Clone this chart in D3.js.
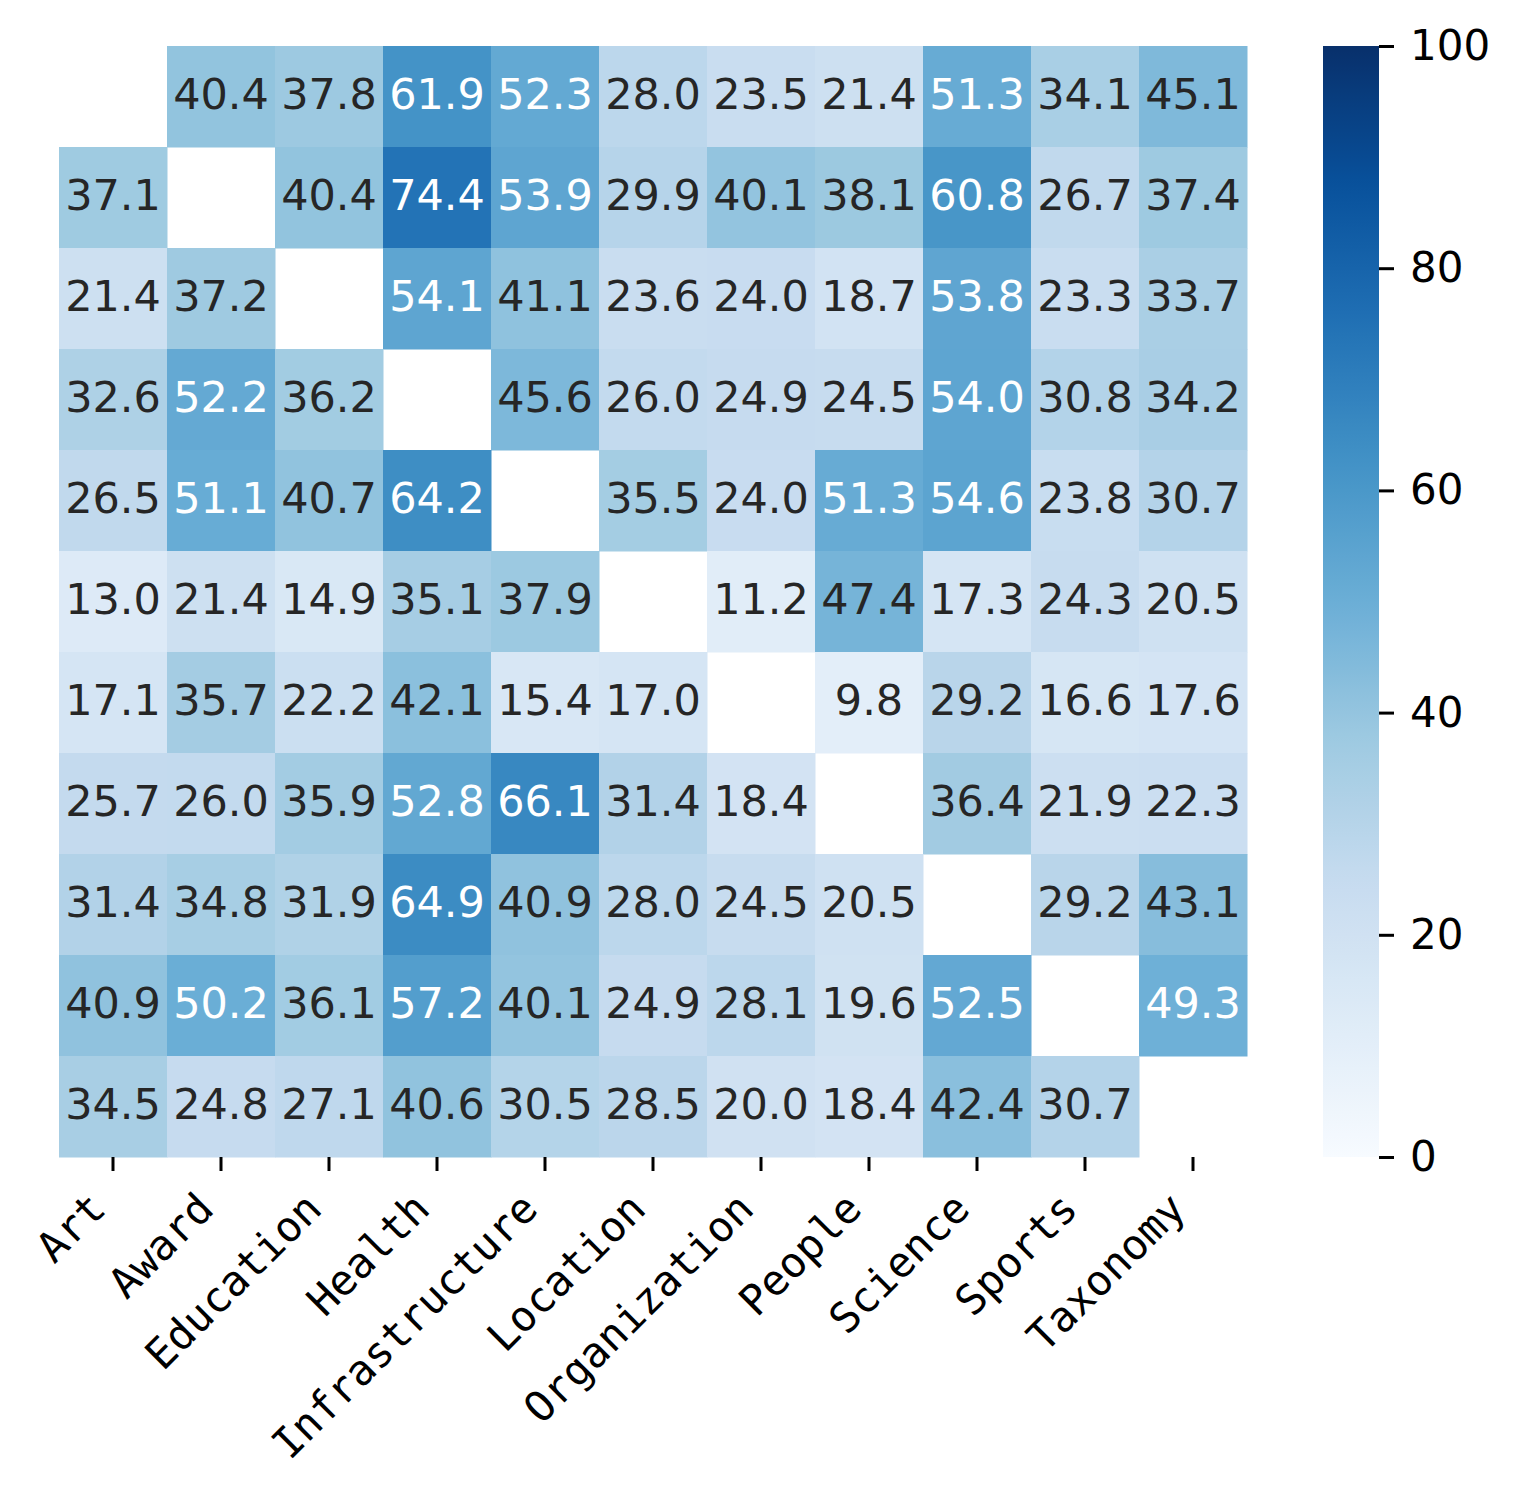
<!DOCTYPE html>
<html>
<head>
<meta charset="utf-8">
<script src="https://cdn.jsdelivr.net/npm/d3@7"></script>
<style>
  body { margin: 0; background: white; }
</style>
</head>
<body>
<div class="plot"></div>
<script>
// Categories (same for rows and columns)
var categories = ["Art", "Award", "Education", "Health", "Infrastructure", "Location",
                  "Organization", "People", "Science", "Sports", "Taxonomy"];

// One array per row, diagonal left empty
var rowArt            = [null, 40.4, 37.8, 61.9, 52.3, 28.0, 23.5, 21.4, 51.3, 34.1, 45.1];
var rowAward          = [37.1, null, 40.4, 74.4, 53.9, 29.9, 40.1, 38.1, 60.8, 26.7, 37.4];
var rowEducation      = [21.4, 37.2, null, 54.1, 41.1, 23.6, 24.0, 18.7, 53.8, 23.3, 33.7];
var rowHealth         = [32.6, 52.2, 36.2, null, 45.6, 26.0, 24.9, 24.5, 54.0, 30.8, 34.2];
var rowInfrastructure = [26.5, 51.1, 40.7, 64.2, null, 35.5, 24.0, 51.3, 54.6, 23.8, 30.7];
var rowLocation       = [13.0, 21.4, 14.9, 35.1, 37.9, null, 11.2, 47.4, 17.3, 24.3, 20.5];
var rowOrganization   = [17.1, 35.7, 22.2, 42.1, 15.4, 17.0, null,  9.8, 29.2, 16.6, 17.6];
var rowPeople         = [25.7, 26.0, 35.9, 52.8, 66.1, 31.4, 18.4, null, 36.4, 21.9, 22.3];
var rowScience        = [31.4, 34.8, 31.9, 64.9, 40.9, 28.0, 24.5, 20.5, null, 29.2, 43.1];
var rowSports         = [40.9, 50.2, 36.1, 57.2, 40.1, 24.9, 28.1, 19.6, 52.5, null, 49.3];
var rowTaxonomy       = [34.5, 24.8, 27.1, 40.6, 30.5, 28.5, 20.0, 18.4, 42.4, 30.7, null];

var rows = [rowArt, rowAward, rowEducation, rowHealth, rowInfrastructure, rowLocation,
            rowOrganization, rowPeople, rowScience, rowSports, rowTaxonomy];

// Colorbar ticks
var colorTicks = [0, 20, 40, 60, 80, 100];

// Layout
var outerWidth = 1517,
    outerHeight = 1491,
    margin = {left: 59, top: 46},
    width = 1188, height = 1111,
    cbar = {x: 1323, width: 56};

var canvas = d3.select(".plot")
    .append("svg")
    .attr("width", outerWidth)
    .attr("height", outerHeight);

canvas.append("rect")
    .attr("width", "100%")
    .attr("height", "100%")
    .attr("fill", "white");

// matplotlib "Blues" (linear between the 9 ColorBrewer anchors)
var bluesAnchors = ["#f7fbff", "#deebf7", "#c6dbef", "#9ecae1", "#6baed6",
                    "#4292c6", "#2171b5", "#08519c", "#08306b"];
var color = d3.scaleLinear()
    .domain(d3.range(9).map(i => i * 100 / 8))
    .range(bluesAnchors)
    .interpolate(d3.interpolateRgb)
    .clamp(true);

// seaborn-style text colour pick
function luminance(c) {
    var rgb = d3.rgb(c);
    var ch = [rgb.r, rgb.g, rgb.b].map(v => {
        v = v / 255;
        return v <= 0.03928 ? v / 12.92 : Math.pow((v + 0.055) / 1.055, 2.4);
    });
    return 0.2126 * ch[0] + 0.7152 * ch[1] + 0.0722 * ch[2];
}

// Scales
var xScale = d3.scaleBand().domain(categories).range([margin.left, margin.left + width]);
var yScale = d3.scaleBand().domain(categories).range([margin.top, margin.top + height]);

// Flatten to cells
var cells = [];
rows.forEach((r, i) => r.forEach((v, j) => {
    if (v !== null) cells.push({row: categories[i], col: categories[j], value: v});
}));

var g = canvas.append("g");

g.selectAll(".cell")
    .data(cells)
    .enter().append("rect")
    .attr("class", "cell")
    .attr("x", d => xScale(d.col))
    .attr("y", d => yScale(d.row))
    .attr("width", xScale.bandwidth() + 0.5)
    .attr("height", yScale.bandwidth() + 0.5)
    .attr("fill", d => color(d.value));

g.selectAll(".annot")
    .data(cells)
    .enter().append("text")
    .attr("class", "annot")
    .attr("x", d => xScale(d.col) + xScale.bandwidth() / 2)
    .attr("y", d => yScale(d.row) + yScale.bandwidth() / 2)
    .attr("dy", "0.28em")
    .attr("text-anchor", "middle")
    .style("font-family", "DejaVu Sans")
    .style("font-size", "43px")
    .attr("fill", d => luminance(color(d.value)) > 0.408 ? "#262626" : "#ffffff")
    .text(d => d.value.toFixed(1));

// X axis: ticks and rotated monospace labels
var xAxis = d3.axisBottom(xScale).tickSize(14).tickFormat("");
var xg = canvas.append("g")
    .attr("transform", "translate(0," + (margin.top + height) + ")")
    .call(xAxis);
xg.select(".domain").remove();
xg.selectAll(".tick line").attr("stroke", "black").attr("stroke-width", 3);

canvas.selectAll(".xlabel")
    .data(categories)
    .enter().append("text")
    .attr("class", "xlabel")
    .attr("transform", d => "translate(" + (xScale(d) + xScale.bandwidth() / 2 - 5) + "," +
        (margin.top + height + 54) + ") rotate(-45)")
    .attr("text-anchor", "end")
    .style("font-family", "DejaVu Sans Mono")
    .style("font-size", "42px")
    .attr("fill", "black")
    .text(d => d);

// Colorbar
var cScale = d3.scaleLinear().domain([0, 100]).range([margin.top + height, margin.top]);

var defs = canvas.append("defs");
var grad = defs.append("linearGradient")
    .attr("id", "bluesGrad")
    .attr("x1", 0).attr("y1", 1).attr("x2", 0).attr("y2", 0);
grad.selectAll("stop")
    .data(d3.range(0, 101, 2))
    .enter().append("stop")
    .attr("offset", d => d + "%")
    .attr("stop-color", d => color(d));

canvas.append("rect")
    .attr("x", cbar.x)
    .attr("y", cScale(100))
    .attr("width", cbar.width)
    .attr("height", cScale(0) - cScale(100))
    .attr("fill", "url(#bluesGrad)");

var cAxis = d3.axisRight(cScale).tickValues(colorTicks).tickSize(15).tickPadding(16);
var cg = canvas.append("g")
    .attr("transform", "translate(" + (cbar.x + cbar.width) + ",0)")
    .call(cAxis);
cg.select(".domain").remove();
cg.selectAll(".tick line").attr("stroke", "black").attr("stroke-width", 3);
cg.selectAll(".tick text")
    .style("font-family", "DejaVu Sans")
    .style("font-size", "42px")
    .attr("fill", "black");
</script>
</body>
</html>
